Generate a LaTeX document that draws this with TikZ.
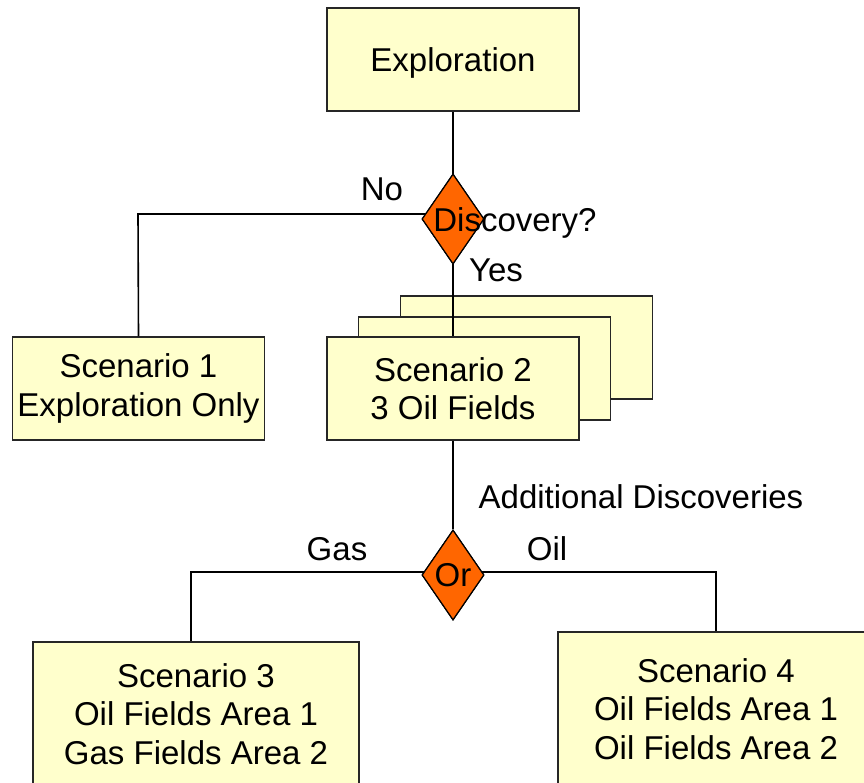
\documentclass[tikz,border=0pt]{standalone}
\usepackage{fontspec}
\setmainfont{Liberation Sans}
\usetikzlibrary{shapes.geometric}
\definecolor{boxfill}{HTML}{FFFFCC}
\definecolor{diafill}{HTML}{FF6600}
\begin{document}
\begin{tikzpicture}[x=1pt,y=-1pt,
  every node/.style={font=\fontsize{33}{38.5}\selectfont},
  box/.style={draw=black!85,line width=1.5pt,fill=boxfill,inner sep=0pt,align=center,minimum width=252pt,minimum height=103pt},
  decision/.style={draw=black,line width=1.2pt,fill=diafill,diamond,inner sep=0pt,minimum width=62pt,minimum height=90pt},
  conn/.style={line width=1.6pt,black},
  lbl/.style={anchor=base,inner sep=0pt}]
\useasboundingbox (0,0) rectangle (864,783);
\clip (0,0) rectangle (864,783);
% stacked back boxes
\node[box] (s2c) at (526.5,347.5) {};
\node[box] (s2b) at (484.5,368.5) {};
% connectors
\node[box,text depth=0pt] (expl) at (453,59.5) {Exploration};
\node[box] (s1) at (138.5,388.5) {Scenario 1\\Exploration Only};
\coordinate (s2top) at (453,337);
\coordinate (noturn) at (138,214);
\coordinate (gasturn) at (191,572);
\coordinate (oilturn) at (716,572);
\node[decision] (disc) at (453,219) {};
\node[decision] (or) at (453,575) {};
\draw[conn] (expl.south) -- (s2top);
\draw[conn] (noturn -| disc) -- (noturn) -- (s1.north);
\node[box] (s2) at (453,388.5) {Scenario 2\\3 Oil Fields};
\draw[conn] (s2.south) -- (or.north);
\node[box,minimum width=326pt,minimum height=144pt] (s3) at (196,714) {Scenario 3\\Oil Fields Area 1\\Gas Fields Area 2};
\node[box,minimum width=316pt,minimum height=154pt] (s4) at (716,709) {Scenario 4\\Oil Fields Area 1\\Oil Fields Area 2};
\draw[conn] (gasturn -| or) -- (gasturn) -- (gasturn |- s3.north);
\draw[conn] (oilturn -| or) -- (oilturn) -- (oilturn |- s4.north);
% redraw diamonds over connectors
\node[decision] (disc2) at (453,219) {};
\node[decision] (or2) at (453,575) {};
% labels
\node[lbl] (discl) at (515,232) {Discovery?};
\node[lbl] (orl) at (453,586) {Or};
\node[lbl] (no) at (382,201) {No};
\node[lbl] (yes) at (496,282) {Yes};
\node[lbl] (add) at (641,508) {Additional Discoveries};
\node[lbl] (gas) at (337,560) {Gas};
\node[lbl] (oil) at (547,560) {Oil};
\end{tikzpicture}
\end{document}
